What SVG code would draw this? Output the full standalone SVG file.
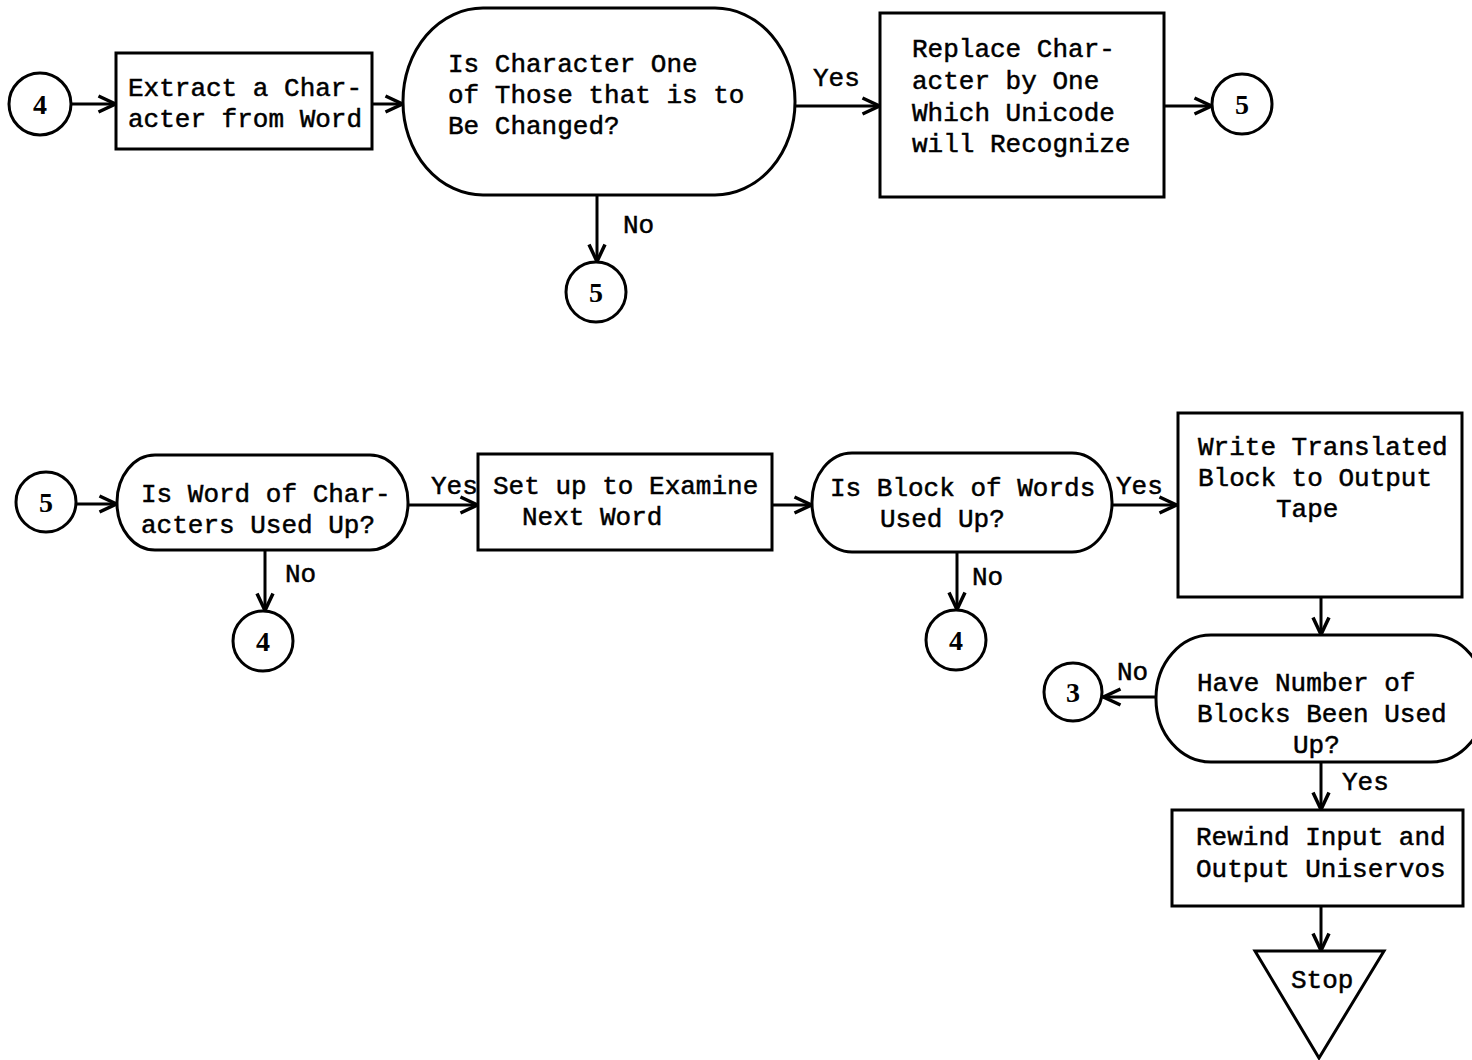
<svg xmlns="http://www.w3.org/2000/svg" width="1472" height="1060" viewBox="0 0 1472 1060">
<defs>
<marker id="arr" viewBox="0 0 22 20" refX="20.5" refY="10" markerWidth="22" markerHeight="20" markerUnits="userSpaceOnUse" orient="auto">
<path d="M3,2 L20,10 L3,18" fill="none" stroke="#000" stroke-width="3.5" stroke-linejoin="miter"/>
</marker>
</defs>
<style>
.s{fill:#fff;stroke:#000;stroke-width:3}
.t{font-family:"Liberation Mono","DejaVu Sans Mono",monospace;font-size:26px;fill:#000;stroke:#000;stroke-width:0.5}
.d{font-family:"Liberation Serif","DejaVu Serif",serif;font-size:28px;font-weight:bold;fill:#000;text-anchor:middle}
.c{fill:none;stroke:#000;stroke-width:3;marker-end:url(#arr)}
</style>
<rect width="1472" height="1060" fill="#fff"/>
<g id="connectors">
<line class="c" x1="71" y1="104" x2="116" y2="104"/>
<line class="c" x1="372" y1="104" x2="403" y2="104"/>
<line class="c" x1="795" y1="106" x2="880" y2="106"/>
<line class="c" x1="1164" y1="106" x2="1212" y2="106"/>
<line class="c" x1="597" y1="195" x2="597" y2="262"/>
<line class="c" x1="77" y1="504" x2="117" y2="504"/>
<line class="c" x1="408" y1="505" x2="478" y2="505"/>
<line class="c" x1="265" y1="550" x2="265" y2="611"/>
<line class="c" x1="772" y1="505" x2="812" y2="505"/>
<line class="c" x1="1112" y1="505" x2="1177" y2="505"/>
<line class="c" x1="957" y1="552" x2="957" y2="610"/>
<line class="c" x1="1321" y1="597" x2="1321" y2="635"/>
<line class="c" x1="1156" y1="697" x2="1103" y2="697"/>
<line class="c" x1="1321" y1="762" x2="1321" y2="810"/>
<line class="c" x1="1321" y1="906" x2="1321" y2="951"/>
<text class="t" x="813" y="86">Yes</text>
<text class="t" x="623" y="233">No</text>
<text class="t" x="431" y="494">Yes</text>
<text class="t" x="285" y="582">No</text>
<text class="t" x="1116" y="494">Yes</text>
<text class="t" x="972" y="585">No</text>
<text class="t" x="1117" y="680">No</text>
<text class="t" x="1342" y="790">Yes</text>
</g>
<g id="c4a"><circle class="s" cx="40" cy="104" r="31"/><text class="d" x="40" y="114">4</text></g>
<g id="extract"><rect class="s" x="116" y="53" width="256" height="96"/>
<text class="t" x="128" y="96">Extract a Char-</text><text class="t" x="128" y="127">acter from Word</text></g>
<g id="dec1"><rect class="s" x="403" y="8" width="392" height="187" rx="80" ry="93"/>
<text class="t" x="448" y="72">Is Character One</text><text class="t" x="448" y="103">of Those that is to</text><text class="t" x="448" y="134">Be Changed?</text></g>
<g id="c5a"><circle class="s" cx="596" cy="292" r="30"/><text class="d" x="596" y="302">5</text></g>
<g id="replace"><rect class="s" x="880" y="13" width="284" height="184"/>
<text class="t" x="912" y="57">Replace Char-</text><text class="t" x="912" y="89">acter by One</text><text class="t" x="912" y="121">Which Unicode</text><text class="t" x="912" y="152">will Recognize</text></g>
<g id="c5b"><circle class="s" cx="1242" cy="104" r="30"/><text class="d" x="1242" y="114">5</text></g>
<g id="c5c"><circle class="s" cx="46" cy="502" r="30"/><text class="d" x="46" y="512">5</text></g>
<g id="dec2"><rect class="s" x="117" y="455" width="291" height="95" rx="38" ry="47"/>
<text class="t" x="141" y="502">Is Word of Char-</text><text class="t" x="141" y="533">acters Used Up?</text></g>
<g id="c4b"><circle class="s" cx="263" cy="641" r="30"/><text class="d" x="263" y="651">4</text></g>
<g id="setup"><rect class="s" x="478" y="454" width="294" height="96"/>
<text class="t" x="493" y="494">Set up to Examine</text><text class="t" x="522" y="525">Next Word</text></g>
<g id="dec3"><rect class="s" x="812" y="453" width="300" height="99" rx="40" ry="49"/>
<text class="t" x="830" y="496">Is Block of Words</text><text class="t" x="880" y="527">Used Up?</text></g>
<g id="c4c"><circle class="s" cx="956" cy="640" r="30"/><text class="d" x="956" y="650">4</text></g>
<g id="write"><rect class="s" x="1178" y="413" width="284" height="184"/>
<text class="t" x="1198" y="455">Write Translated</text><text class="t" x="1198" y="486">Block to Output</text><text class="t" x="1276" y="517">Tape</text></g>
<g id="dec4"><rect class="s" x="1156" y="635" width="330" height="127" rx="55" ry="63"/>
<text class="t" x="1197" y="691">Have Number of</text><text class="t" x="1197" y="722">Blocks Been Used</text><text class="t" x="1293" y="753">Up?</text></g>
<g id="c3"><circle class="s" cx="1073" cy="692" r="29"/><text class="d" x="1073" y="702">3</text></g>
<g id="rewind"><rect class="s" x="1172" y="810" width="291" height="96"/>
<text class="t" x="1196" y="845">Rewind Input and</text><text class="t" x="1196" y="877">Output Uniservos</text></g>
<g id="stop"><polygon class="s" points="1255,951 1384,951 1319,1058"/>
<text class="t" x="1291" y="988">Stop</text></g>
</svg>
